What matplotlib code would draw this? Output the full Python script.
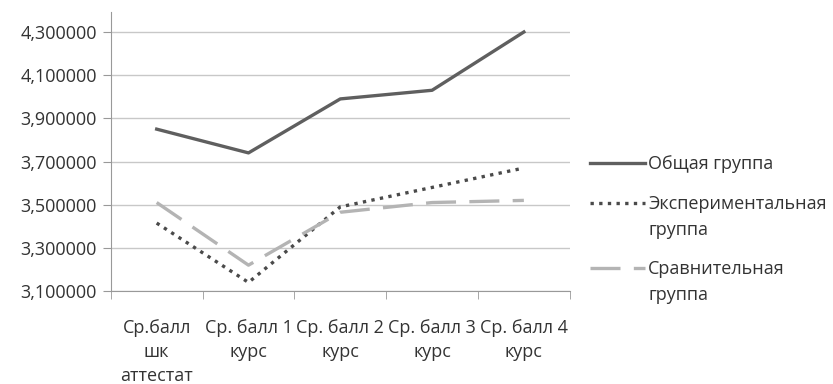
import matplotlib.pyplot as plt
from matplotlib.lines import Line2D
from matplotlib.ticker import FuncFormatter, MultipleLocator

plt.rcParams['font.family'] = ['Open Sans', 'DejaVu Sans']

CATEGORIES = ["Ср.балл\nшк\nаттестат", "Ср. балл 1\nкурс", "Ср. балл 2\nкурс",
              "Ср. балл 3\nкурс", "Ср. балл 4\nкурс"]
GENERAL = [3.85, 3.74, 3.99, 4.03, 4.30]
EXPERIMENTAL = [3.415, 3.14, 3.49, 3.58, 3.67]
COMPARATIVE = [3.51, 3.22, 3.465, 3.51, 3.52]
LABELS = ["Общая группа", "Экспериментальная\nгруппа", "Сравнительная\nгруппа"]

STYLES = [
    dict(color="#5f5f5f", lw=2.4, ls="-"),
    dict(color="#4a4a4a", lw=2.4, ls=(0, (1, 1.6))),
    dict(color="#b4b4b4", lw=2.4, ls=(0, (9, 4))),
]
FS = 13
TXT = "#333333"

fig = plt.figure(figsize=(8.33, 3.84), dpi=100)
ax = fig.add_axes([0.133, 0.242, 0.551, 0.727])

x = range(len(CATEGORIES))
for series, st in zip([GENERAL, EXPERIMENTAL, COMPARATIVE], STYLES):
    ax.plot(x, series, **st)

ax.set_xlim(-0.5, len(CATEGORIES) - 0.5)
ax.set_ylim(3.1, 4.393)
ax.set_yticks([3.1, 3.3, 3.5, 3.7, 3.9, 4.1, 4.3])
ax.yaxis.set_major_formatter(FuncFormatter(lambda v, p: f"{v:.6f}".replace(".", ",")))
ax.grid(axis="y", color="#c8c8c8", lw=1.0)
ax.set_axisbelow(True)

ax.set_xticks(list(x))
ax.set_xticklabels(CATEGORIES, fontsize=FS, color=TXT, linespacing=1.42)
ax.xaxis.set_minor_locator(MultipleLocator(1, offset=0.5))
ax.tick_params(axis="x", which="major", length=0, pad=20)
ax.tick_params(axis="x", which="minor", length=6, color="#999999", direction="out")
ax.tick_params(axis="y", length=6, color="#999999", labelsize=FS, labelcolor=TXT, pad=4)

for s in ["top", "right"]:
    ax.spines[s].set_visible(False)
for s in ["left", "bottom"]:
    ax.spines[s].set_color("#999999")

# legend drawn by hand so the sample sits beside the first text line
legend_y = [163, 203, 268]
for yy, st, lab in zip(legend_y, STYLES, LABELS):
    fy = 1 - yy / 384
    fig.add_artist(Line2D([590 / 833, 645 / 833], [fy, fy], **st))
    fig.text(648 / 833, fy + 8 / 384, lab, fontsize=FS, color=TXT,
             va="top", linespacing=1.6)

fig.savefig("out.png", dpi=100)
